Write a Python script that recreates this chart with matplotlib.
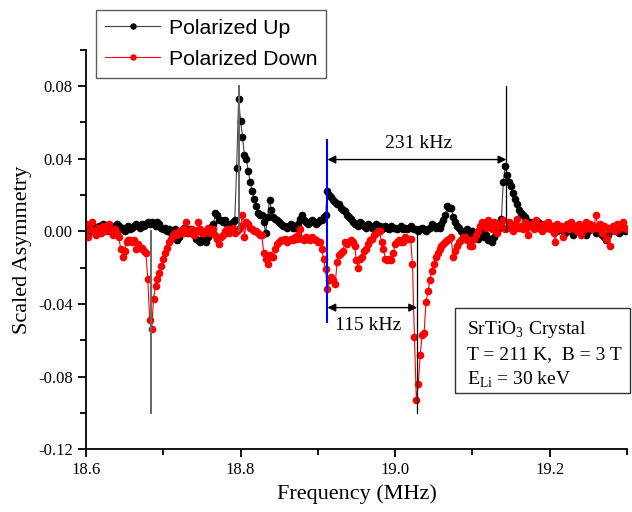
import numpy as np
import matplotlib
matplotlib.use("Agg")
import matplotlib.pyplot as plt
from matplotlib.patches import Rectangle
from matplotlib.ticker import MultipleLocator, FormatStrFormatter

plt.rcParams['font.family'] = 'Liberation Serif'
plt.rcParams['mathtext.fontset'] = 'custom'
plt.rcParams['mathtext.rm'] = 'Liberation Serif'
plt.rcParams['axes.unicode_minus'] = False

# scan: 18.6 .. 19.3 MHz in 2.5 kHz steps, asymmetry in units of 1e-3
f_start, f_stop = 18.6, 19.3

up_milli = [
    3, -2, 1, 4, 2, 0, 1, 3, 2, 4, 1, 2, 0, 3, 1, 2, 4, 3, 1, 2,
    0, 2, 3, 1, 2, 3, 4, 3, 2, 4, 3, 4, 5,
    4, 5, 4, 3, 5, 4, 2, 1, 2, 0, 1, -1, 0,
    1, -5, -3, 0, 1, 2, 0, -1, 1, 0, -2, -4, -5, -6, -4,
    -5, -6, -3, 0, 3, 4, 10, 9, 6, 6,
    5, 6, 4, 3, 2, 5, 6, 35, 73, 61,
    52, 42, 40, 33, 27, 22, 18, 14, 10, 9,
    9, 5, -1, 8, 17, 12, 8, 7, 6, 5,
    4, 3, 3, 2, 3, 4, 2, 2, 2, 4,
    7, 9, 6, 5, 4, 5, 6, 5, 4, 5,
    6, 6, 8, 9, 22, 20, 19, 17, 16, 15,
    15, 13, 12, 11, 9, 8, 7, 5,
    4, 4, 3, 5, 4, 3, 2, 4, 3, 2, 3, 4,
    2, 3, 1, 2, 3, 2, 1, 3, 2, 2, 1, 2, 3, 1, 2, 1, 2, 3, 2, 1,
    1, 0, 1, 2, 1, 0, 1, 2, 4, 3,
    2, 3, 2, 4, 6, 9, 14, 13, 13, 8, 5, 3,
    2, 0, -1, -2, 1, -2, -3, 0, -1, -2, -4, -2, 0, -3, -2, -5, -4, -6,
    -3, 0, 1, 2, 7, 27, 36, 31, 27, 25,
    21, 18, 15, 12, 10, 9, 8, 6, 5,
    5, 4, 4, 3, 5, 4, 3, 2, 4, 3, 2, 1, 3, 2, 0, 1,
    2, 0, -1, 1, 2, 0, -2, 1, 3, 0, -1, 2, 1, -2, 0, 2, 3, 1, -1, 0,
    2, -2, -3, -5, -2, 0, 2, 1, 3, 0, -1, 1, 2, 0, 1,
]

down_milli = [
    4, -3, 1, 5, 0, -2, 2, 1, -1, 3, 0,
    2, 4, 0, -2, 1, -1, -3, -10, -14, -11,
    -6, -5, -5, -6, -5, -10, -7, -9, -9, -11,
    -12, -26, -49, -54, -37, -30, -26, -23, -19, -15,
    -12, -9, -6, -4, -2,
    -1, -2, 0, -1, 1, -1, 5, 0, -1, 1, -2, 0, 5, 1, -1,
    -1, 0, 2, -1, 0, 1, -2, -4, -7,
    -3, -2, 0, 1, -1, 0, 2, -1, 0,
    1, 3, 9, -3, 5, 4, 2, 1, 0, 0, -1, -2,
    -2, -12, -15, -18, -13, -14, -14, -10, -7,
    -6, -5, -5, -4, -6, -5, -4, -5, -3, -4, -2, 1, -4, -5, -3,
    -4, -5, -3, -4, -5, -6, -6, -10,
    -15, -21, -32, -27, -25, -27, -29, -17, -13, -12,
    -11, -6, -7, -6, -5, -6, -8, -16, -20, -15,
    -14, -11, -10, -7, -5, -4, -2, -1, 0, 0,
    -6, -10, -15, -16, -15, -16, -12, -7, -6, -5,
    -6, -6, -3, -4, -4, -4, -18, -58, -93, -84,
    -68, -57, -56, -39, -33, -27, -22, -18, -14, -12,
    -10, -8, -7, -6, -5, -4, -3, -14, -11, -8,
    -6, -5, -3, -3, -5, -5, -8, -8, -4, -2,
    0, 3, 5,
    4, 2, 6, 3, 1, 5, 2, -1, 4, 3, 6, 1, 2, 5, 3, 0, 4, 7, 2, 3,
    1, 5, 2, -2, 3, 4, 1, 6, 2, 3, 0, 4, 2, 5, 1, 3, -1, -6, 4, 1,
    3, -3, 2, 4, 1, 5, 2, 3, 0, 4, -2, 3, 1, 5, 2, 4, 1, 3, 9, 2,
    4, -1, 3, -4, 2, -8, 1, 3, 0, 4, 1, 3, 5, 2, 1,
]

up = np.array(up_milli) / 1000.0
down = np.array(down_milli) / 1000.0
freq_up = np.linspace(f_start, f_stop, len(up))
freq_down = np.linspace(f_start, f_stop, len(down))

# resonance guide lines: (freq, y0, y1, colour, width)
guides = [
    (18.684, 0.0, -0.10, '#666666', 1.4),
    (18.798, 0.0, 0.08, '#666666', 1.4),
    (19.144, 0.0, 0.08, 'black', 0.9),
    (19.0285, 0.0, -0.10, 'black', 0.9),
    (18.9125, 0.05, -0.05, 'blue', 1.5),
]

fig = plt.figure(figsize=(6.32, 5.12), dpi=100)
ax = fig.add_axes([0.136, 0.1225, 0.856, 0.7805])

ax.plot(freq_up, up, '-', color='#444444', lw=0.8, marker='o', ms=4.5,
        mfc='black', mec='black', label='Polarized Up')
ax.plot(freq_down, down, '-', color='red', lw=0.8, marker='o', ms=4.5,
        mfc='red', mec='red', label='Polarized Down')

for fx, y0, y1, c, lw in guides:
    ax.plot([fx, fx], [y0, y1], color=c, lw=lw)

ax.annotate('', xy=(19.144, 0.0395), xytext=(18.9125, 0.0395),
            arrowprops=dict(arrowstyle='<|-|>', color='black', lw=1,
                            shrinkA=0, shrinkB=0, mutation_scale=12))
ax.text(19.03, 0.0485, '231 kHz', ha='center', va='center', fontsize=14)
ax.annotate('', xy=(19.0285, -0.042), xytext=(18.9125, -0.042),
            arrowprops=dict(arrowstyle='<|-|>', color='black', lw=1,
                            shrinkA=0, shrinkB=0, mutation_scale=12))
ax.text(18.965, -0.052, '115 kHz', ha='center', va='center', fontsize=14)

ax.set_xlim(18.6, 19.3)
ax.set_ylim(-0.12, 0.10)
ax.xaxis.set_major_locator(MultipleLocator(0.2))
ax.xaxis.set_minor_locator(MultipleLocator(0.1))
ax.yaxis.set_major_locator(MultipleLocator(0.04))
ax.yaxis.set_minor_locator(MultipleLocator(0.02))
ax.xaxis.set_major_formatter(FormatStrFormatter('%.1f'))
ax.yaxis.set_major_formatter(FormatStrFormatter('%.2f'))
ax.spines['top'].set_visible(False)
ax.spines['right'].set_visible(False)
ax.spines['left'].set_linewidth(1.3)
ax.spines['bottom'].set_linewidth(1.3)
ax.tick_params(which='major', direction='out', length=6, width=1.3, labelsize=12)
ax.tick_params(which='minor', direction='out', length=4, width=1.3)
ax.set_xlabel('Frequency (MHz)', fontsize=16)
ax.set_ylabel('Scaled Asymmetry', fontsize=16)

leg = ax.legend(loc='upper left', bbox_to_anchor=(96 / 632, 1 - 10 / 512),
                bbox_transform=fig.transFigure, frameon=True, fancybox=False,
                prop={'family': 'Liberation Sans', 'size': 15.3},
                handlelength=2.6, borderaxespad=0, borderpad=0.42,
                labelspacing=0.55, handletextpad=0.4, markerscale=0.8)
leg.get_frame().set_edgecolor('#333333')
leg.get_frame().set_linewidth(1.0)

fig.patches.append(Rectangle((455 / 632, 1 - 393 / 512), 175 / 632, 85 / 512,
                             transform=fig.transFigure, fill=False,
                             edgecolor='#333333', lw=1.0))
info = ['SrTiO$_3$ Crystal', 'T = 211 K,  B = 3 T', 'E$_{\\mathrm{Li}}$ = 30 keV']
for k, line in enumerate(info):
    fig.text(467 / 632, 1 - (330 + 25 * k) / 512, line, fontsize=14, va='center')

fig.savefig('out.png', dpi=100)
